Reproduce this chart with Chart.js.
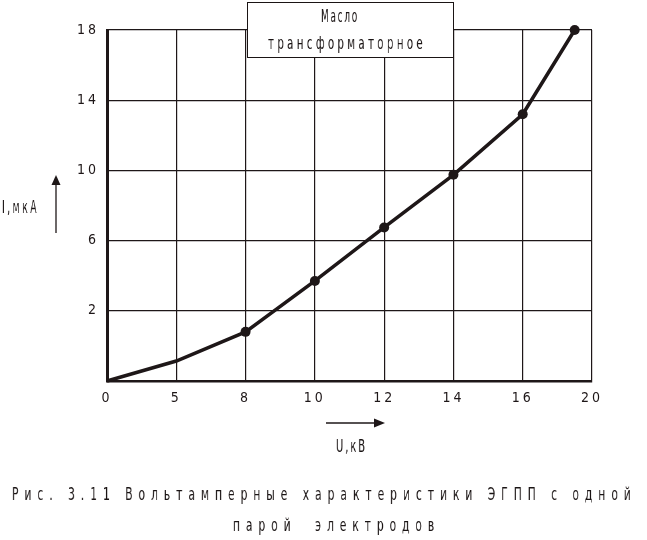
<!DOCTYPE html>
<html>
<head>
<meta charset="utf-8">
<script src="https://cdn.jsdelivr.net/npm/chart.js@4"></script>
<style>
  body { margin: 0; background: #fff; }
  #wrap { position: relative; width: 647px; height: 540px; overflow: hidden; }
  #chart { position: absolute; left: 0; top: 0; }
  .txt {
    position: absolute;
    font-family: "DejaVu Sans Condensed", "DejaVu Sans", sans-serif;
    color: #1a1414;
    white-space: pre;
    line-height: 1;
    transform-origin: 0 0;
    will-change: transform;
  }
  #legendBox {
    position: absolute;
    left: 247px; top: 2px; width: 205px; height: 54px;
    border: 1px solid #1a1414;
    background: #fff;
  }
</style>
</head>
<body>
<div id="wrap">
  <canvas id="chart" width="647" height="540"></canvas>
  <div id="legendBox"></div>
  <div class="txt" data-w="38" style="left:321px; top:8px; font-size:17px; letter-spacing:3px;">Масло</div>
  <div class="txt" data-w="158" style="left:268px; top:35px; font-size:17px; letter-spacing:5px;">трансформаторное</div>
  <div class="txt" data-w="37" style="left:2px; top:199px; font-size:17px; letter-spacing:4px;">I,мкА</div>
  <div class="txt" data-w="31" style="left:336px; top:438px; font-size:17px; letter-spacing:3px;">U,кВ</div>
  <div class="txt" data-w="625" style="left:12px; top:485px; font-size:18px; letter-spacing:9px;">Рис. 3.11 Вольтамперные характеристики ЭГПП с одной</div>
  <div class="txt" data-w="207" style="left:233px; top:516px; font-size:18px; letter-spacing:9px;">парой  электродов</div>
</div>
<script>
// tick labels as printed (axes are not to scale: equal spacing between labels)
const xTicks = [0, 5, 8, 10, 12, 14, 16, 20];
const yTicks = [0, 2, 6, 10, 14, 18];

// U, кВ and I, мкА
const voltage = [0, 5, 8, 10, 12, 14, 16, 19];
const current = [0, 0.57, 1.4, 3.7, 6.75, 9.75, 13.2, 18];
const markerSize = [0, 0, 5, 5, 5, 5, 5, 5];

// squeeze the letter-spaced captions to the width they have in the figure
document.querySelectorAll('.txt[data-w]').forEach(el => {
    const w = el.getBoundingClientRect().width;
    const target = parseFloat(el.dataset.w);
    el.style.transform = 'scaleX(' + (target / w).toFixed(3) + ')';
});

// position of a value on the evenly spaced grid
function toGrid(v, ticks) {
    for (let i = 0; i < ticks.length - 1; i++) {
        if (v <= ticks[i + 1]) {
            return i + (v - ticks[i]) / (ticks[i + 1] - ticks[i]);
        }
    }
    return ticks.length - 1;
}

const points = voltage.map((u, i) => ({ x: toGrid(u, xTicks), y: toGrid(current[i], yTicks) }));

const ink = '#1e1718';
const tickFont = { family: '"DejaVu Sans Condensed", "DejaVu Sans", sans-serif', size: 14 };

// letter spacing for tick labels + the two arrows
const extras = {
    id: 'extras',
    beforeDraw(chart) {
        chart.ctx.letterSpacing = '3px';
    },
    afterDraw(chart) {
        const ctx = chart.ctx;
        ctx.save();
        ctx.strokeStyle = ink;
        ctx.fillStyle = ink;
        ctx.lineWidth = 1.3;
        // up arrow next to I,мкА
        ctx.beginPath();
        ctx.moveTo(56, 233);
        ctx.lineTo(56, 183);
        ctx.stroke();
        ctx.beginPath();
        ctx.moveTo(56, 175);
        ctx.lineTo(60.5, 185);
        ctx.lineTo(51.5, 185);
        ctx.closePath();
        ctx.fill();
        // right arrow above U,кВ
        ctx.beginPath();
        ctx.moveTo(326, 423);
        ctx.lineTo(376, 423);
        ctx.stroke();
        ctx.beginPath();
        ctx.moveTo(385, 423);
        ctx.lineTo(374, 418.5);
        ctx.lineTo(374, 427.5);
        ctx.closePath();
        ctx.fill();
        ctx.restore();
    }
};

new Chart(document.getElementById('chart'), {
    type: 'line',
    data: {
        datasets: [{
            data: points,
            borderColor: ink,
            backgroundColor: ink,
            borderWidth: 3.5,
            tension: 0,
            pointRadius: markerSize,
            pointBackgroundColor: ink,
            pointBorderWidth: 0,
            clip: false
        }]
    },
    options: {
        responsive: false,
        animation: false,
        devicePixelRatio: 1,
        layout: { padding: { top: 30, right: 55, bottom: 0, left: 0 } },
        plugins: { legend: { display: false }, tooltip: { enabled: false } },
        scales: {
            x: {
                type: 'linear',
                min: 0,
                max: xTicks.length - 1,
                afterFit: s => { s.height = 159; },
                ticks: {
                    stepSize: 1,
                    padding: 9,
                    color: ink,
                    font: tickFont,
                    maxRotation: 0,
                    callback: v => xTicks[v]
                },
                grid: { color: ink, lineWidth: 1.2, drawTicks: false },
                border: { display: true, color: ink, width: 2.5 }
            },
            y: {
                type: 'linear',
                min: 0,
                max: yTicks.length - 1,
                afterFit: s => { s.width = 107; },
                ticks: {
                    stepSize: 1,
                    padding: 8,
                    color: ink,
                    font: tickFont,
                    callback: v => (v === 0 ? '' : yTicks[v])
                },
                grid: { color: ink, lineWidth: 1.2, drawTicks: false },
                border: { display: true, color: ink, width: 3 }
            }
        }
    },
    plugins: [extras]
});
</script>
</body>
</html>
